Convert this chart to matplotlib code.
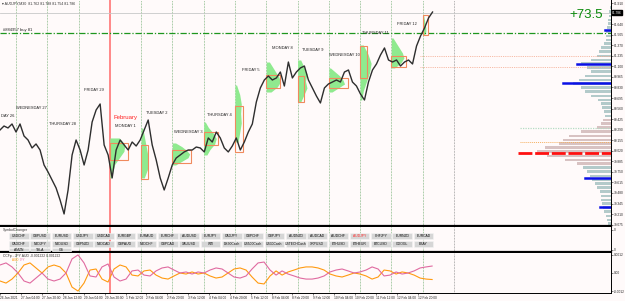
import numpy as np
import matplotlib
matplotlib.use("Agg")
import matplotlib.pyplot as plt
from matplotlib.patches import Rectangle

plt.rcParams['font.family'] = ['Liberation Sans', 'DejaVu Sans']

# ---------------- data ----------------
# AUDJPY M30 closes, sampled ~every 3 hours (trading-day units, 0 = 27 Jan 00:00)
close_prices = [80.286, 80.337, 80.312, 80.363, 80.260, 80.363, 80.209, 80.158, 80.056, 80.107,
                80.030, 79.838, 79.748, 79.646, 79.544, 79.390, 79.211, 79.518, 79.966, 80.158,
                80.030, 79.838, 80.030, 80.388, 80.542, 80.619, 80.094, 79.966, 79.672, 80.030,
                80.158, 80.094, 80.030, 80.132, 80.081, 80.158, 80.286, 80.414, 80.094, 79.902,
                79.672, 79.518, 79.672, 79.838, 79.928, 79.966, 80.005, 80.030, 80.030, 80.068,
                80.056, 80.005, 80.184, 80.132, 80.260, 80.184, 80.056, 80.005, 80.081, 80.184,
                80.030, 80.132, 80.260, 80.363, 80.644, 80.824, 80.926, 80.977, 80.926, 80.952,
                81.028, 80.849, 81.156, 80.952, 81.028, 81.080, 81.105, 80.926, 80.824, 80.721,
                80.632, 80.824, 80.875, 80.900, 80.926, 80.900, 81.028, 81.054, 80.900, 80.849,
                80.747, 80.670, 80.900, 81.054, 81.131, 81.246, 81.336, 81.182, 81.156, 81.182,
                81.105, 81.156, 81.182, 81.131, 81.361, 81.489, 81.592, 81.720, 81.796]
price_t0 = -0.511
price_step = 0.128

# day separators (trading days), index 3 = 1 February
sep_days = list(range(15))
feb_day = 3

day_labels = ["DAY 26", "WEDNESDAY 27", "THURSDAY 28", "FRIDAY 29", "MONDAY 1", "TUESDAY 2",
              "WEDNESDAY 3", "THURSDAY 4", "FRIDAY 5", "MONDAY 8", "TUESDAY 9", "WEDNESDAY 10",
              "THURSDAY 11", "FRIDAY 12"]
day_label_days = [-1, 0, 1, 2, 3, 4, 5, 6, 7, 8, 9, 10, 11, 12]
day_label_prices = [80.465, 80.568, 80.363, 80.798, 80.337, 80.504, 80.260, 80.478, 81.054,
                    81.336, 81.310, 81.246, 81.528, 81.643]

# daily market profiles (green) and value-area boxes (orange)
prof_days = [3, 4, 5, 6, 7, 8, 9, 10, 11, 12, 13]
prof_lo = [79.672, 79.672, 79.838, 79.966, 80.132, 80.772, 80.644, 80.772, 80.670, 81.080, 81.502]
prof_hi = [80.184, 80.312, 80.120, 80.388, 80.862, 81.156, 81.182, 81.080, 81.374, 81.464, 81.771]
prof_shape = [[0.05, 0.10, 0.15, 0.30, 0.45, 0.48, 0.30],
              [0.10, 0.20, 0.22, 0.20, 0.15, 0.10, 0.05],
              [0.10, 0.30, 0.50, 0.55, 0.45, 0.30, 0.10],
              [0.10, 0.20, 0.35, 0.40, 0.30, 0.15, 0.05],
              [0.10, 0.15, 0.20, 0.18, 0.20, 0.15, 0.05],
              [0.15, 0.35, 0.45, 0.40, 0.30, 0.20, 0.10],
              [0.10, 0.20, 0.30, 0.25, 0.30, 0.20, 0.10],
              [0.10, 0.30, 0.50, 0.45, 0.35, 0.20, 0.05],
              [0.05, 0.10, 0.20, 0.30, 0.35, 0.25, 0.10],
              [0.10, 0.30, 0.40, 0.35, 0.25, 0.15, 0.05],
              [0.05, 0.10, 0.10, 0.08, 0.06, 0.04, 0.02]]
va_width = [0.58, 0.22, 0.58, 0.45, 0.26, 0.45, 0.22, 0.60, 0.22, 0.48, 0.16]
va_lo = [79.900, 79.659, 79.860, 80.090, 80.005, 80.824, 80.644, 80.820, 80.952, 81.095, 81.502]
va_hi = [80.120, 80.094, 80.030, 80.260, 80.593, 80.990, 80.977, 80.950, 81.361, 81.230, 81.758]

# composite volume profile on the right edge (relative volume per price bin)
vp_levels = np.round(np.arange(79.083, 81.86, 0.0512), 3)[::-1]
vp_volume = [1, 2, 2, 3, 3, 4, 5, 5, 5, 7, 10, 12, 14, 20, 30, 24, 20, 26, 32, 38, 30, 26, 20, 13,
             10, 9, 7, 6, 8, 10, 14, 30, 42, 48, 52, 66, 74, 64, 46, 34, 28, 24, 21, 19, 16, 14,
             11, 10, 10, 9, 8, 7, 5, 4, 3]

# horizontal levels
last_price = 81.786
order_level = 81.528
fri_va_levels = [81.230, 81.095]
poc_level = 79.990
va_upper_level = 80.132
va_top_level = 80.312
blue_levels = [81.566, 81.131, 80.888, 79.672, 79.300]
blue_lengths = [0.19, 1.09, 1.53, 0.83, 0.35]

price_ticks = [79.075, 79.210, 79.345, 79.480, 79.615, 79.750, 79.885, 80.020, 80.155, 80.290,
               80.425, 80.560, 80.695, 80.830, 80.965, 81.100, 81.235, 81.370, 81.505, 81.640,
               81.910]

# CCFp currency strength (x1e-4), sampled every ~4.6 hours
ccf_t0 = -0.511
ccf_step = 0.1918
ccf_jpy = [5.4, 6.8, 4.1, 0, -5.4, -6.8, -3.4, 0, -4.1, -5.4, -4.1, 0, 9.5, 12.2, 6.8, -2.0, -2.7,
           4.1, 6.1, -2.7, -5.4, -4.1, 1.4, 2.0, -1.4, -2.0, 1.4, 3.4, 4.1, 2.0, 0, 0.7, -0.7, 0.7,
           0, 2.0, 3.4, 2.7, 0, -2.7, -3.4, -2.0, 2.7, 6.8, 7.4, 2.0, -1.4, 1.4, -0.7, -2.0, -3.4,
           -4.1, -4.1, -3.4, -2.0, 0.7, 2.0, 2.7, 1.4, 0, 0.7, 2.0, 4.1, 2.7, -2.0, -1.4, 0.7, -0.7,
           0, 1.4, 3.4, 4.1, 4.7]
ccf_aud = [-5.4, -6.8, -4.1, 0, 5.4, 6.8, 3.4, 0, 4.1, 5.4, 4.1, 0, -9.5, -12.2, -6.8, 2.0, 2.7,
           -4.1, -6.1, 2.7, 5.4, 4.1, -1.4, -2.0, 1.4, 2.0, -1.4, -3.4, -4.1, -2.0, 0, -0.7, 0.7,
           -0.7, 0, -2.0, -3.4, -2.7, 0, 2.7, 3.4, 2.0, -2.7, -6.8, -7.4, -2.0, 1.4, -1.4, 0.7,
           2.0, 3.4, 4.1, 4.1, 3.4, 2.0, -0.7, -2.0, -2.7, -1.4, 0, -0.7, -2.0, -4.1, -2.7, 2.0,
           1.4, -0.7, 0.7, 0, -1.4, -3.4, -4.1, -4.4]

time_tick_labels = ["26 Jan 2021", "27 Jan 04:00", "27 Jan 20:00", "28 Jan 12:00", "29 Jan 04:00",
                    "29 Jan 20:00", "1 Feb 12:00", "2 Feb 04:00", "2 Feb 20:00", "3 Feb 12:00",
                    "4 Feb 04:00", "4 Feb 20:00", "5 Feb 12:00", "8 Feb 04:00", "8 Feb 20:00",
                    "9 Feb 12:00", "10 Feb 04:00", "10 Feb 20:00", "11 Feb 12:00", "12 Feb 04:00",
                    "12 Feb 20:00"]

symbols_row1 = ["USDCHF", "GBPUSD", "EURUSD", "USDJPY", "USDCAD", "EURGBP", "EURAUD", "EURCHF",
                "AUDUSD", "EURJPY", "CADJPY", "GBPCHF", "GBPJPY", "AUDNZD", "AUDCAD", "AUDCHF",
                "AUDJPY", "CHFJPY", "EURNZD", "EURCAD"]
symbols_row2 = ["CADCHF", "NZDJPY", "NZDUSD", "GBPNZD", "NZDCAD", "GBPAUD", "NZDCHF", "GBPCAD",
                "XAUUSD", "WTI", "DE30Cash", "US500Cash", "US30Cash", "USTECHCash", "XRPUSD",
                "ETHUSD", "ETHEUR", "BTCUSD", "GOOGL", "EBAY"]
symbols_row3 = ["AMZN", "TSLA", "GS"]
current_symbol = "AUDJPY"

# ---------------- drawing ----------------
BG = "#fffafa"
W, H = 625, 301
XMIN, XMAX = -0.511, 19.016
YMIN, YMAX = 79.057, 81.95

fig = plt.figure(figsize=(W / 100, H / 100), dpi=100, facecolor=BG)
ax = fig.add_axes([0, 1 - 226 / H, 611 / W, 226 / H], facecolor=BG)
ax_sym = fig.add_axes([0, 1 - 252 / H, 611 / W, 25 / H], facecolor=BG)
ax_ccf = fig.add_axes([0, 1 - 293 / H, 611 / W, 40 / H], facecolor=BG)

for a in (ax, ax_sym, ax_ccf):
    a.set_xlim(XMIN, XMAX)
    for s in ("top", "left"):
        a.spines[s].set_visible(False)
    a.spines["right"].set_color("black")
    a.spines["right"].set_linewidth(0.7)
    a.spines["bottom"].set_color("black")
    a.yaxis.tick_right()
    a.tick_params(axis="y", labelsize=2.3, length=1.2, width=0.4, pad=0.8, colors="#222222")
    # day separators
    for d in sep_days:
        if d == feb_day:
            a.axvline(d, color="#ff7f7f", lw=1.3, zorder=1)
        else:
            a.axvline(d, color="#5aa05a" if d < 14 else "#777777", lw=0.5,
                      ls=(0, (1, 1.2)), zorder=1)
ax.spines["bottom"].set_linewidth(1.6)
ax_sym.spines["bottom"].set_linewidth(1.6)
ax_ccf.spines["bottom"].set_linewidth(0.7)

# --- main chart ---
ax.set_ylim(YMIN, YMAX)
ax.set_xticks([])
ax.set_yticks(price_ticks)
ax.set_yticklabels([f"{p:.3f}" for p in price_ticks])

# composite volume profile
px_day = 1 / 31.29
vp_w = np.array(vp_volume) * px_day
vp_colors = ["#d8c2c2" if 79.84 <= lv <= 80.42 else "#b3caca" for lv in vp_levels]
ax.barh(vp_levels, vp_w, left=XMAX - vp_w, height=0.038, color=vp_colors, zorder=2)

# daily profiles + value areas
for d, lo, hi, shp, vw, vlo, vhi in zip(prof_days, prof_lo, prof_hi, prof_shape,
                                        va_width, va_lo, va_hi):
    lv = np.linspace(lo, hi, len(shp))
    ax.fill_betweenx(lv, d, d + np.array(shp), color="#8fea8f", lw=0, zorder=2)
    ax.add_patch(Rectangle((d, vlo), vw, vhi - vlo, fill=False, ec="#f08a5d", lw=0.8, zorder=4))

# horizontal levels
ax.axhline(last_price, color="#c8c8c8", lw=0.6, zorder=1)
ax.axhline(order_level, color="#1e961e", lw=0.9, ls=(0, (5, 1.5, 1, 1.5)), zorder=3)
for lv in fri_va_levels:
    ax.plot([12.9, XMAX], [lv, lv], color="#f4a58a", lw=0.6, ls=(0, (1, 1.2)), zorder=3)
ax.plot([16.1, XMAX], [va_top_level, va_top_level], color="#b5dcc4", lw=0.9, ls=(0, (1, 1)), zorder=3)
ax.plot([16.1, XMAX], [va_upper_level, va_upper_level], color="#f5b060", lw=0.7, ls=(0, (1, 1)), zorder=3)
ax.plot([16.05, XMAX], [poc_level, poc_level], color="#ff1010", lw=2.0, ls=(0, (5, 1)), zorder=3)
for lv, ln in zip(blue_levels, blue_lengths):
    ax.plot([XMAX - ln, XMAX], [lv, lv], color="#0a10e6", lw=1.8, zorder=3)

# price
price_days = price_t0 + price_step * np.arange(len(close_prices))
ax.plot(price_days, close_prices, color="#2e2e2e", lw=1.0, zorder=5)

# day labels
for lab, d, p in zip(day_labels, day_label_days, day_label_prices):
    if d < 0:
        ax.text(XMIN + 1 * px_day, p, lab, ha="left", va="center", fontsize=2.9,
                color="#222222", zorder=6)
    else:
        ax.text(d + 0.5, p, lab, ha="center", va="center", fontsize=2.9, color="#222222",
                zorder=6)
ax.text(feb_day + 0.5, 80.452, "February", ha="center", va="center", fontsize=4.3,
        color="#ff2020", zorder=6)

# header and annotations
ax.text(2 * px_day + XMIN, YMAX - 0.05, "\u25be AUDJPY,M30  81.762 81.788 81.754 81.786",
        fontsize=2.6, va="center", ha="left", color="#333333", zorder=7)
ax.text(XMIN + 3 * px_day, order_level + 0.035, "#884957 buy 81", fontsize=3.0,
        va="center", ha="left", color="#222222", zorder=7)
ax.text(XMAX - 8 * px_day, 81.76, "+73.5", fontsize=9.5, color="#0a8a0a",
        ha="right", va="center", zorder=7)
ax.text(1.002, (last_price - YMIN) / (YMAX - YMIN), f"{last_price:.3f}", transform=ax.transAxes,
        fontsize=2.3, color="white", ha="left", va="center",
        bbox=dict(boxstyle="square,pad=0.15", fc="black", ec="black"), zorder=8, clip_on=False)

# --- symbol changer window ---
ax_sym.set_ylim(0, 1)
ax_sym.set_xticks([])
ax_sym.set_yticks([0.9, 0.1])
ax_sym.set_yticklabels(["0", "0"])
ax_sym.text(XMIN + 3 * px_day, 0.86, "SymbolChanger", fontsize=2.5, color="#333333",
            ha="left", va="center")
axb = fig.add_axes(ax_sym.get_position(), facecolor="none")
axb.set_xlim(0, 611)
axb.set_ylim(252, 227)
axb.axis("off")
for row, top, ty in ((symbols_row1, 233, 236.3), (symbols_row2, 240.5, 243.8),
                     (symbols_row3, 248, 250.0)):
    for i, name in enumerate(row):
        x0 = 9 + i * 21.3
        axb.add_patch(Rectangle((x0, top), 19.6, 6.3, fc="#d6d6d6", ec="#f4f4f4", lw=0.4,
                                clip_on=True))
        axb.text(x0 + 9.8, ty, name, fontsize=2.4, ha="center", va="center",
                 color="#ff3030" if name == current_symbol else "#111111")

# --- CCFp window ---
ccf_scale = 1e-4
ax_ccf.set_ylim(-0.00135, 0.00135)
ccf_days = ccf_t0 + ccf_step * np.arange(len(ccf_jpy))
ax_ccf.plot(ccf_days, np.array(ccf_aud) * ccf_scale, color="#ff9a10", lw=0.8, zorder=4)
ax_ccf.plot(ccf_days, np.array(ccf_jpy) * ccf_scale, color="#e06aa0", lw=0.8, zorder=4)
ax_ccf.set_yticks([0.001222, 0.0, -0.001222])
ax_ccf.set_yticklabels(["0.0012", "0.00", "-0.0012"])
ax_ccf.text(XMIN + 3 * px_day, 0.00118, "CCFp - JPY AUD -0.001222 0.001222", fontsize=2.4,
            color="#333333", ha="left", va="center")
ax_ccf.text(XMIN + 12 * px_day, 0.00090, "AUD", fontsize=2.2, color="#ff9a10", ha="left", va="center")
ax_ccf.text(XMIN + 20 * px_day, 0.00090, "JPY", fontsize=2.2, color="#e06aa0", ha="left", va="center")

tick_days = [-0.5 + k * 2 / 3 for k in range(len(time_tick_labels))]
ax_ccf.set_xticks(tick_days)
ax_ccf.set_xticklabels(time_tick_labels)
ax_ccf.tick_params(axis="x", labelsize=2.3, length=1.5, width=0.4, pad=1.0, colors="#222222")
for t in ax_ccf.get_xticklabels():
    t.set_ha("left")

fig.savefig("out.png", dpi=100, facecolor=BG)
